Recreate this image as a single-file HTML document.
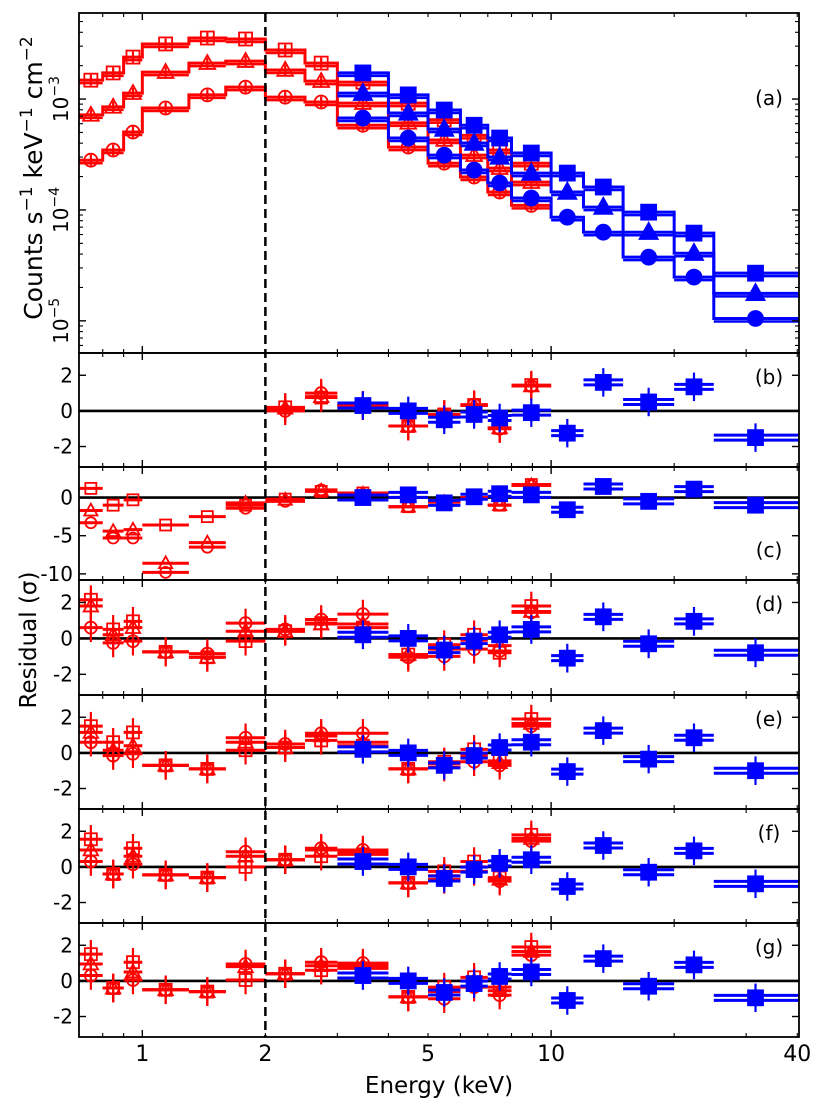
<!DOCTYPE html>
<html><head><meta charset="utf-8">
<style>
html,body{margin:0;padding:0;background:#fff;}
svg{display:block;font-family:"DejaVu Sans","Liberation Sans",sans-serif;}
</style></head>
<body>
<svg id="chart" width="831" height="1120" viewBox="0 0 831 1120" xmlns="http://www.w3.org/2000/svg"></svg>
<script>
// ---------- data ----------
const redLo = [0.7,0.8,0.9,1.0,1.3,1.6,2.0,2.5,3.0,4.0,5.0,6.0,7.0,8.0];
const redHi = [0.8,0.9,1.0,1.3,1.6,2.0,2.5,3.0,4.0,5.0,6.0,7.0,8.0,10.0];
const blueLo = [3,4,5,6,7,8,10,12,15,20,25];
const blueHi = [4,5,6,7,8,10,12,15,20,25,40.4];

// panel (a) counts s^-1 keV^-1 cm^-2
const redSq  = [1.48e-3,1.72e-3,2.39e-3,3.14e-3,3.55e-3,3.48e-3,2.77e-3,2.11e-3,1.42e-3,9.2e-4,6.5e-4,4.7e-4,3.47e-4,2.64e-4];
const redTri = [7.2e-4,8.5e-4,1.13e-3,1.75e-3,2.11e-3,2.20e-3,1.83e-3,1.45e-3,9.2e-4,6.1e-4,4.27e-4,3.12e-4,2.38e-4,1.78e-4];
const redCir = [2.81e-4,3.47e-4,5.04e-4,8.3e-4,1.09e-3,1.28e-3,1.04e-3,9.4e-4,5.8e-4,3.69e-4,2.64e-4,1.98e-4,1.45e-4,1.10e-4];
const blueSq  = [1.72e-3,1.09e-3,7.96e-4,5.8e-4,4.45e-4,3.26e-4,2.15e-4,1.61e-4,9.55e-5,6.18e-5,2.69e-5];
const blueTri = [1.13e-3,7.48e-4,5.36e-4,4.01e-4,3.0e-4,2.15e-4,1.45e-4,1.06e-4,6.3e-5,4.07e-5,1.77e-5];
const blueCir = [6.74e-4,4.45e-4,3.12e-4,2.29e-4,1.75e-4,1.28e-4,8.6e-5,6.3e-5,3.75e-5,2.48e-5,1.05e-5];

// residuals (sigma)
const bRedSq  = [null,null,null,null,null,null,0.2,0.75,0.3,-0.85,-0.2,0.33,-0.95,1.45];
const bRedTri = [null,null,null,null,null,null,0.15,0.8,0.3,-0.85,-0.25,0.3,-0.95,1.4];
const bRedCir = [null,null,null,null,null,null,0.0,1.0,0.3,-0.85,-0.2,0.35,-1.0,1.4];
const bBlue   = [0.3,0.0,-0.5,-0.2,-0.4,-0.1,-1.25,1.6,0.5,1.35,-1.5];

const cRedSq  = [1.2,-1.0,-0.3,-3.6,-2.5,-1.0,-0.2,0.8,0.6,-1.2,-0.5,-0.1,-1.0,1.7];
const cRedTri = [-1.7,-4.4,-4.2,-8.6,-5.9,-0.7,-0.3,0.9,0.5,-1.2,-0.6,0.0,-1.0,1.6];
const cRedCir = [-3.3,-5.3,-5.3,-9.8,-6.5,-1.4,-0.5,1.0,0.4,-1.2,-0.6,0.0,-1.0,1.6];
const cBlue   = [0.0,0.35,-0.7,0.1,0.5,0.35,-1.6,1.45,-0.5,1.1,-1.0];

const dRedSq  = [2.15,0.5,0.95,-0.75,-1.05,-0.15,0.4,0.85,0.6,-0.9,-0.35,0.2,-0.8,1.8];
const dRedTri = [1.8,0.2,0.6,-0.75,-1.05,0.4,0.4,0.8,0.8,-0.9,-0.6,-0.1,-0.4,1.5];
const dRedCir = [0.6,-0.25,-0.15,-0.75,-0.85,0.85,0.5,1.05,1.35,-1.05,-1.0,-0.6,-0.7,1.45];
const dBlue   = [0.2,0.0,-0.65,-0.15,0.2,0.5,-1.1,1.2,-0.3,0.95,-0.8];

const eRedSq  = [1.5,0.6,1.15,-0.7,-0.9,0.15,0.3,0.7,0.4,-0.9,-0.5,0.2,-0.45,1.9];
const eRedTri = [1.15,0.15,0.4,-0.7,-0.9,0.6,0.3,0.95,0.6,-0.9,-0.6,-0.15,-0.55,1.65];
const eRedCir = [0.6,-0.15,-0.05,-0.7,-0.9,0.85,0.5,1.1,1.1,-0.9,-0.8,-0.5,-0.7,1.5];
const eBlue   = [0.2,0.0,-0.7,-0.15,0.3,0.6,-1.05,1.25,-0.35,0.85,-1.0];

const fRedSq  = [1.55,-0.4,1.05,-0.45,-0.6,0.0,0.4,0.6,0.7,-0.9,-0.25,0.3,-0.6,1.8];
const fRedTri = [0.95,-0.4,0.6,-0.45,-0.6,0.6,0.4,0.95,0.8,-0.9,-0.5,0.0,-0.7,1.6];
const fRedCir = [0.3,-0.4,0.15,-0.45,-0.6,0.85,0.4,1.05,0.95,-0.9,-0.7,-0.25,-0.8,1.45];
const fBlue   = [0.3,0.0,-0.65,-0.15,0.2,0.4,-1.1,1.2,-0.3,0.9,-0.95];

const gRedSq  = [1.5,-0.4,1.05,-0.5,-0.6,0.05,0.4,0.6,0.7,-0.9,-0.35,0.2,-0.35,1.9];
const gRedTri = [0.95,-0.4,0.5,-0.5,-0.6,0.8,0.4,0.85,0.85,-0.9,-0.6,0.0,-0.55,1.65];
const gRedCir = [0.3,-0.4,0.05,-0.5,-0.6,0.95,0.4,1.05,1.0,-0.9,-1.0,-0.35,-0.8,1.45];
const gBlue   = [0.3,0.0,-0.65,-0.15,0.25,0.5,-1.1,1.25,-0.3,0.9,-0.95];

const xTickVals = [1,2,5,10,40];
const xTickLabels = ['1','2','5','10','40'];

// ---------- layout ----------
const NS = 'http://www.w3.org/2000/svg';
const svg = document.getElementById('chart');
const X0 = 79, X1 = 799;
const XMIN = 0.7, XMAX = 40.4;
function sx(e){ return X0 + (X1-X0)*(Math.log10(e)-Math.log10(XMIN))/(Math.log10(XMAX)-Math.log10(XMIN)); }
const RED = '#ff0000', BLUE = '#0000ff';

function mk(tag, attrs, parent){
  const el = document.createElementNS(NS, tag);
  for (const k in attrs) el.setAttribute(k, attrs[k]);
  (parent||svg).appendChild(el);
  return el;
}

function marker(g, kind, cx, cy, color, size, filled){
  let el;
  const fill = filled ? color : 'none';
  if (kind === 'sq') {
    el = mk('rect', {x:cx-size/2, y:cy-size/2, width:size, height:size, fill:fill, stroke:color, 'stroke-width':1.8}, g);
  } else if (kind === 'tri') {
    const h = size*1.0;
    el = mk('polygon', {points:`${cx},${cy-h*0.62} ${cx-size*0.6},${cy+h*0.45} ${cx+size*0.6},${cy+h*0.45}`, fill:fill, stroke:color, 'stroke-width':1.8}, g);
  } else {
    el = mk('circle', {cx:cx, cy:cy, r:size/2, fill:fill, stroke:color, 'stroke-width':1.8}, g);
  }
  
  
}

function xTicks(g, top, bot){
  const minors = [0.7,0.8,0.9,2,3,4,5,6,7,8,9,20,30,40];
  [1,10].forEach(v=>{
    const x = sx(v);
    mk('line',{x1:x,x2:x,y1:bot,y2:bot-7,stroke:'#000','stroke-width':1.4},g);
    mk('line',{x1:x,x2:x,y1:top,y2:top+7,stroke:'#000','stroke-width':1.4},g);
  });
  minors.forEach(v=>{
    const x = sx(v);
    if (x < X0+1 || x > X1-1) return;
    mk('line',{x1:x,x2:x,y1:bot,y2:bot-4,stroke:'#000','stroke-width':1.1},g);
    mk('line',{x1:x,x2:x,y1:top,y2:top+4,stroke:'#000','stroke-width':1.1},g);
  });
}

function hbar(g, lo, hi, y, color, w){
  mk('line',{x1:sx(lo),x2:Math.min(sx(hi),X1),y1:y,y2:y,stroke:color,'stroke-width':w||3},g);
}
function vbar(g, x, y1, y2, color){
  mk('line',{x1:x,x2:x,y1:y1,y2:y2,stroke:color,'stroke-width':2.2},g);
}

// ---------- panel (a) ----------
const A_TOP = 13, A_BOT = 353, A_LMIN = -5.29, A_LMAX = -2.224;
function syA(v){ return A_BOT - (A_BOT-A_TOP)*(Math.log10(v)-A_LMIN)/(A_LMAX-A_LMIN); }

(function(){
  const g = mk('g', {});
  
  
  const series = [
    {v:redSq, lo:redLo, hi:redHi, k:'sq', c:RED, f:false},
    {v:redTri, lo:redLo, hi:redHi, k:'tri', c:RED, f:false},
    {v:redCir, lo:redLo, hi:redHi, k:'cir', c:RED, f:false},
    {v:blueSq, lo:blueLo, hi:blueHi, k:'sq', c:BLUE, f:true},
    {v:blueTri, lo:blueLo, hi:blueHi, k:'tri', c:BLUE, f:true},
    {v:blueCir, lo:blueLo, hi:blueHi, k:'cir', c:BLUE, f:true},
  ];
  series.forEach(s=>{
    let d = '';
    s.v.forEach((v,i)=>{
      const y = syA(v), xa = sx(s.lo[i]), xb = Math.min(sx(s.hi[i]),X1);
      d += (i===0 ? `M${xa},${y}` : `L${xa},${y}`) + ` L${xb},${y}`;
    });
    const p = mk('path',{d:d,fill:'none',stroke:s.c,'stroke-width':3},g);
    
    
    s.v.forEach((v,i)=>{
      const y = syA(v);
      const xm = sx(Math.sqrt(s.lo[i]*Math.min(s.hi[i],40)));
      hbar(g, s.lo[i], s.hi[i], y+3, s.c, 2.5);
      vbar(g, xm, syA(v*1.12), syA(v/1.12), s.c);
      marker(g, s.k, xm, y, s.c, s.f?15:13, s.f);
    });
  });
  xTicks(g, A_TOP, A_BOT);
  for (let e=-6; e<=-2; e++){
    for (let m=1; m<10; m++){
      const v = m*Math.pow(10,e);
      const lv = Math.log10(v);
      if (lv < A_LMIN || lv > A_LMAX) continue;
      const y = syA(v), L = m===1?7:4;
      mk('line',{x1:X0,x2:X0+L,y1:y,y2:y,stroke:'#000','stroke-width':m===1?1.4:1.1},g);
      mk('line',{x1:X1,x2:X1-L,y1:y,y2:y,stroke:'#000','stroke-width':m===1?1.4:1.1},g);
    }
  }
  [[-3,'−3'],[-4,'−4'],[-5,'−5']].forEach(([e,lab])=>{
    const y = syA(Math.pow(10,e));
    const t = mk('text',{x:0,y:0,transform:`translate(68,${y}) rotate(-90)`,'text-anchor':'middle','font-size':20,fill:'#000'},g);
    
    
    t.textContent = '10';
    const sup = mk('tspan',{dy:-9,'font-size':14},t); sup.textContent = lab;
  });
  const lab = mk('text',{x:769,y:105,'text-anchor':'middle','font-size':20,fill:'#000'},g);
  
  
  lab.textContent = '(a)';
  const fr = mk('rect',{x:X0,y:A_TOP,width:X1-X0,height:A_BOT-A_TOP,fill:'none',stroke:'#000','stroke-width':1.8},g);
  
  
})();

// ---------- residual panels ----------
const panels = [
  {id:'b', top:353, bot:467, ymin:-3.15, ymax:3.25, ticks:[2,0,-2], labs:['2','0','-2'], rs:bRedSq, rt:bRedTri, rc:bRedCir, bl:bBlue, err:0.8},
  {id:'c', top:467, bot:580, ymin:-10.8, ymax:4.0, ticks:[0,-5,-10], labs:['0','-5','-10'], rs:cRedSq, rt:cRedTri, rc:cRedCir, bl:cBlue, err:0.0},
  {id:'d', top:580, bot:695, ymin:-3.15, ymax:3.25, ticks:[2,0,-2], labs:['2','0','-2'], rs:dRedSq, rt:dRedTri, rc:dRedCir, bl:dBlue, err:0.8},
  {id:'e', top:695, bot:809, ymin:-3.15, ymax:3.25, ticks:[2,0,-2], labs:['2','0','-2'], rs:eRedSq, rt:eRedTri, rc:eRedCir, bl:eBlue, err:0.8},
  {id:'f', top:809, bot:923, ymin:-3.15, ymax:3.25, ticks:[2,0,-2], labs:['2','0','-2'], rs:fRedSq, rt:fRedTri, rc:fRedCir, bl:fBlue, err:0.8},
  {id:'g', top:923, bot:1037, ymin:-3.15, ymax:3.25, ticks:[2,0,-2], labs:['2','0','-2'], rs:gRedSq, rt:gRedTri, rc:gRedCir, bl:gBlue, err:0.8},
];
panels.forEach(P=>{
  const g = mk('g',{});
  
  
  const sy = r => P.bot - (P.bot-P.top)*(r-P.ymin)/(P.ymax-P.ymin);
  const zl = mk('line',{x1:X0,x2:X1,y1:sy(0),y2:sy(0),stroke:'#000','stroke-width':2.6},g);
  
  
  [[P.rs,'sq'],[P.rt,'tri'],[P.rc,'cir']].forEach(([arr,k])=>{
    arr.forEach((r,i)=>{
      if (r===null) return;
      const y = sy(r), xm = sx(Math.sqrt(redLo[i]*redHi[i]));
      hbar(g, redLo[i], redHi[i], y, RED, 3);
      if (P.err>0) vbar(g, xm, sy(r+P.err), sy(r-P.err), RED);
      marker(g, k, xm, y, RED, P.id==='c'?11:12, false);
    });
  });
  P.bl.forEach((r,i)=>{
    const y = sy(r), xm = sx(Math.sqrt(blueLo[i]*Math.min(blueHi[i],40)));
    hbar(g, blueLo[i], blueHi[i], y-2.5, BLUE, 3);
    hbar(g, blueLo[i], blueHi[i], y+2.5, BLUE, 3);
    if (P.err>0) vbar(g, xm, sy(r+P.err), sy(r-P.err), BLUE);
    marker(g, 'sq', xm, y, BLUE, 15, true);
  });
  xTicks(g, P.top, P.bot);
  P.ticks.forEach((t,j)=>{
    const y = sy(t);
    mk('line',{x1:X0,x2:X0+7,y1:y,y2:y,stroke:'#000','stroke-width':1.4},g);
    mk('line',{x1:X1,x2:X1-7,y1:y,y2:y,stroke:'#000','stroke-width':1.4},g);
    const tx = mk('text',{x:73,y:y+7,'text-anchor':'end','font-size':20,fill:'#000'},g);
    
    
    tx.textContent = P.labs[j];
  });
  const ly = P.id==='c' ? 557 : P.top+31;
  const lab = mk('text',{x:769,y:ly,'text-anchor':'middle','font-size':20,fill:'#000'},g);
  
  
  lab.textContent = '('+P.id+')';
  const fr = mk('rect',{x:X0,y:P.top,width:X1-X0,height:P.bot-P.top,fill:'none',stroke:'#000','stroke-width':1.8},g);
  
  
});

const dl = mk('line',{x1:sx(2),x2:sx(2),y1:13,y2:1037,stroke:'#000','stroke-width':2.5,'stroke-dasharray':'9,5'});



xTickVals.forEach((v,i)=>{
  const t = mk('text',{x:sx(v),y:1061,'text-anchor':'middle','font-size':22,fill:'#000'});
  
  
  t.textContent = xTickLabels[i];
});
const xt = mk('text',{x:439,y:1093,'text-anchor':'middle','font-size':23,fill:'#000'});


xt.textContent = 'Energy (keV)';

const yt = mk('text',{x:0,y:0,transform:'translate(42,178) rotate(-90)','text-anchor':'middle','font-size':25,fill:'#000'});


yt.innerHTML = 'Counts s<tspan dy="-10" font-size="17">−1</tspan><tspan dy="10"> keV</tspan><tspan dy="-10" font-size="17">−1</tspan><tspan dy="10"> cm</tspan><tspan dy="-10" font-size="17">−2</tspan>';

const rt = mk('text',{x:0,y:0,transform:'translate(36,640) rotate(-90)','text-anchor':'middle','font-size':23,fill:'#000'});


rt.textContent = 'Residual (σ)';
</script>
</body></html>
